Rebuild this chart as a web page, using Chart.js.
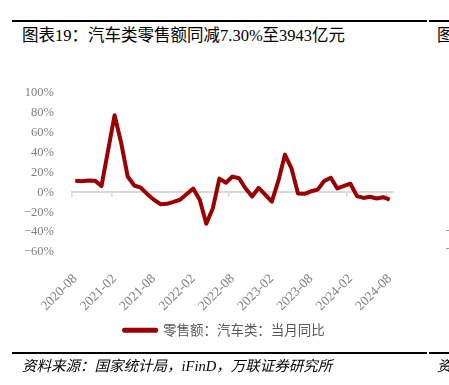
<!DOCTYPE html>
<html>
<head>
<meta charset="utf-8">
<script src="https://cdn.jsdelivr.net/npm/chart.js@4.4.1/dist/chart.umd.min.js"></script>
<style>
  html, body { margin: 0; padding: 0; background: #fff; }
  body { width: 449px; height: 385px; position: relative; overflow: hidden; }
  canvas { position: absolute; left: 0; top: 0; }
  .rule { position: absolute; height: 2px; background: #000; }
  .txt { position: absolute; white-space: nowrap; color: #000; }
  .title { font: 16.5px "Liberation Serif", "Noto Sans CJK SC", serif; line-height: 20px; }
  .src { font: italic 14.5px "Liberation Serif", "Noto Sans CJK SC", serif; line-height: 18px; }
  .dash { position: absolute; width: 3px; height: 1px; background: #999; }
</style>
</head>
<body>
<div class="rule" style="left:12px; top:20px; width:415px"></div>
<div class="rule" style="left:429px; top:20px; width:20px"></div>
<div class="txt title" style="left:22px; top:26px">图表19：汽车类零售额同减7.30%至3943亿元</div>
<div class="txt title" style="left:437px; top:26px">图</div>

<canvas id="chart" width="449" height="385"></canvas>

<div class="dash" style="left:446px; top:230px"></div>
<div class="dash" style="left:446px; top:248px"></div>

<div class="rule" style="left:12px; top:352px; width:415px"></div>
<div class="rule" style="left:429px; top:352px; width:20px"></div>
<div class="txt src" style="left:22px; top:357px">资料来源：国家统计局，iFinD，万联证券研究所</div>
<div class="txt src" style="left:437px; top:357px">资</div>

<script>
// monthly categories, January has no separate release (Jan-Feb combined)
const months = [
  "2020-08", "2020-09", "2020-10", "2020-11", "2020-12",
  "2021-01", "2021-02", "2021-03", "2021-04", "2021-05", "2021-06",
  "2021-07", "2021-08", "2021-09", "2021-10", "2021-11", "2021-12",
  "2022-01", "2022-02", "2022-03", "2022-04", "2022-05", "2022-06",
  "2022-07", "2022-08", "2022-09", "2022-10", "2022-11", "2022-12",
  "2023-01", "2023-02", "2023-03", "2023-04", "2023-05", "2023-06",
  "2023-07", "2023-08", "2023-09", "2023-10", "2023-11", "2023-12",
  "2024-01", "2024-02", "2024-03", "2024-04", "2024-05", "2024-06",
  "2024-07", "2024-08"
];

// 零售额:汽车类:当月同比 (%)
const autoYoY = [
  11.8, 11.3, 12.0, 11.8, 6.4,
  null, 77.6, 50.0, 16.0, 6.9, 4.7,
  -1.8, -7.4, -11.9, -11.5, -9.6, -7.4,
  null, 3.9, -7.5, -31.6, -16.0, 13.9,
  9.7, 15.9, 14.2, 3.9, -4.2, 4.6,
  null, -9.4, 11.5, 38.0, 24.2, -1.1,
  -1.5, 1.1, 2.8, 11.4, 14.7, 4.0,
  null, 8.7, -3.7, -5.6, -4.4, -6.2,
  -4.9, -7.3
];

const seriesName = "零售额：汽车类：当月同比";
const yMin = -60, yMax = 100, yStep = 20;

const RED = "#990000";
const GREY = "#7f7f7f";
const serif = "'Liberation Serif', serif";

new Chart(document.getElementById("chart"), {
  type: "line",
  data: {
    labels: months,
    datasets: [{
      label: seriesName,
      data: autoYoY,
      borderColor: RED,
      backgroundColor: RED,
      borderWidth: 4,
      pointRadius: 0,
      tension: 0,
      spanGaps: true,
      borderJoinStyle: "round"
    }]
  },
  options: {
    responsive: false,
    animation: false,
    layout: { padding: { top: 93, right: 0, bottom: 38, left: 0 } },
    plugins: {
      tooltip: { enabled: false },
      legend: {
        position: "bottom",
        labels: {
          boxWidth: 32,
          boxHeight: 1,
          padding: 10,
          color: "#595959",
          font: { family: "'Noto Sans CJK SC', sans-serif", size: 13.5 }
        }
      }
    },
    scales: {
      x: {
        type: "category",
        offset: true,
        grid: { display: false },
        border: { display: false },
        ticks: {
          autoSkip: false,
          minRotation: 45,
          maxRotation: 45,
          padding: 11,
          color: GREY,
          font: { family: serif, size: 13.5 },
          callback: (v, i) => (i % 6 === 0 ? months[i] : "")
        },
        afterFit: s => { s.height = 61.5; }
      },
      // zero line with the half-year tick marks
      xZero: {
        type: "category",
        position: { y: 0 },
        offset: true,
        grid: {
          offset: true,
          drawOnChartArea: false,
          drawTicks: true,
          tickLength: 4,
          lineWidth: 1.5,
          color: c => (c.index % 6 === 0 ? "#d9d9d9" : "rgba(0,0,0,0)")
        },
        border: { display: true, color: "#d9d9d9", width: 2 },
        ticks: { display: false, autoSkip: false }
      },
      y: {
        min: yMin,
        max: yMax,
        grid: { display: false },
        border: { display: false },
        ticks: {
          stepSize: yStep,
          padding: 10,
          color: GREY,
          font: { family: serif, size: 12.5 },
          callback: v => String(v).replace("-", "\u2212") + "%"
        },
        afterFit: s => { s.width = 72; }
      },
      // empty right-hand space so the plot ends where the original does
      yRight: {
        position: "right",
        display: true,
        grid: { display: false },
        border: { display: false },
        ticks: { display: false },
        afterFit: s => { s.width = 56; }
      }
    }
  }
});
</script>
</body>
</html>
